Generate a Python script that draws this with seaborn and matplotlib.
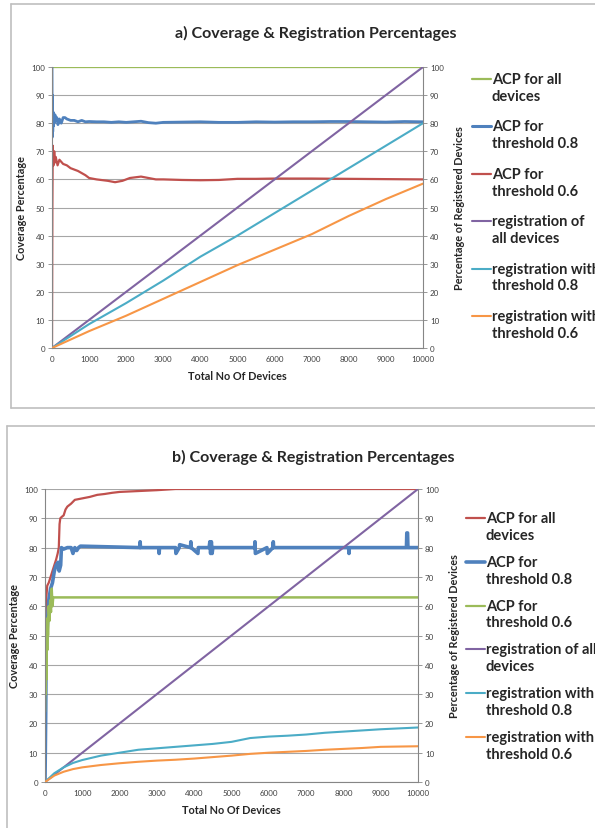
import matplotlib
matplotlib.use("Agg")
import matplotlib.pyplot as plt
import seaborn as sns
from matplotlib.lines import Line2D

sns.set_style("white")
plt.rcParams['font.family'] = ['Lato', 'DejaVu Sans']

# colours (Excel 2010 palette)
GREEN = '#9BBB59'
BLUE = '#4F81BD'
RED = '#C0504D'
PURPLE = '#8064A2'
TEAL = '#4BACC6'
ORANGE = '#F79646'

# ---------------- panel a data ----------------
a_all_x = [0, 10000]
a_all_y = [100, 100]

a_t08_x = [0, 5, 10, 20, 30, 40, 50, 60, 80, 100, 130, 160, 200, 250, 300, 350, 400, 500, 600,
           700, 800, 900, 1000, 1200, 1400, 1600, 1800, 2000, 2200, 2400, 2600, 2800, 3000,
           3500, 4000, 4500, 5000, 5500, 6000, 6500, 7000, 7500, 8000, 8500, 9000, 9500, 10000]
a_t08_y = [100, 75, 90, 77, 84, 79, 83, 80, 83, 81, 82, 79.5, 81.5, 80, 82, 82, 81.5, 81, 81,
           80.5, 81, 80.5, 80.6, 80.5, 80.5, 80.3, 80.5, 80.3, 80.5, 80.7, 80.2, 80, 80.3,
           80.4, 80.5, 80.3, 80.3, 80.5, 80.4, 80.5, 80.5, 80.6, 80.6, 80.5, 80.4, 80.6, 80.5]

a_t06_x = [0, 10, 20, 40, 60, 80, 100, 150, 200, 300, 400, 500, 700, 900, 1000, 1200, 1500,
           1700, 1900, 2100, 2400, 2600, 2800, 3000, 3500, 4000, 4500, 5000, 5500, 6000,
           7000, 8000, 9000, 10000]
a_t06_y = [0, 50, 72, 65, 70, 66, 68, 65, 67, 65.5, 65, 64, 63, 61.5, 60.5, 60, 59.5,
           59, 59.5, 60.5, 61, 60.5, 60, 60, 59.8, 59.7, 59.8, 60.2, 60.2, 60.3,
           60.3, 60.2, 60.1, 60]

a_reg_x = [0, 1000, 2000, 3000, 4000, 5000, 6000, 7000, 8000, 9000, 10000]
a_reg_all = [0, 10, 20, 30, 40, 50, 60, 70, 80, 90, 100]
a_reg_08 = [0, 8.5, 16, 24, 32.5, 40, 48, 56, 64, 72, 80]
a_reg_06 = [0, 6, 11.5, 17.5, 23.5, 29.5, 35, 40.5, 47, 53, 58.5]

# ---------------- panel b data ----------------
b_all_x = [0, 30, 60, 100, 150, 200, 250, 300, 340, 370, 390, 410, 450, 500, 550, 600, 700,
           800, 1000, 1200, 1400, 1600, 1800, 2000, 2500, 3000, 3500, 10000]
b_all_y = [52, 62, 67, 68, 70, 72, 74, 76, 78, 80, 88, 90, 90.5, 91, 93, 94, 95,
           96.3, 96.8, 97.3, 98, 98.3, 98.7, 99, 99.3, 99.6, 100, 100]

b_t08_x = [0, 20, 30, 50, 80, 100, 150, 200, 250, 300, 350, 380, 420, 440, 500, 600, 700,
           750, 800, 850, 900, 950, 2540, 2550, 2560, 3050, 3060, 3070, 3500, 3510, 3600,
           3610, 3900, 3910, 3920, 4100, 4110, 4400, 4420, 4440, 4460, 4480, 4500, 5620,
           5630, 5640, 5950, 5960, 6110, 6120, 6130, 8140, 8150, 8160, 9690, 9700, 9720,
           9730, 10000]
b_t08_y = [0, 25, 45, 50, 57, 62, 66, 68, 72, 74, 75, 72, 74, 80, 79.5, 80, 80,
           78, 80, 79, 80, 80.5, 80, 82, 80, 80, 78, 80, 80, 78, 80,
           81, 80, 82, 80, 78, 80, 80, 82, 78, 82, 78, 80, 80,
           82, 78, 80, 78, 80, 82, 80, 80, 78, 80, 80, 85, 85,
           80, 80]

b_t06_x = [0, 10, 20, 30, 40, 50, 60, 70, 80, 100, 120, 140, 160, 180, 200, 220, 10000]
b_t06_y = [24, 40, 30, 46, 35, 52, 45, 56, 50, 60, 55, 62, 58, 66, 60, 63, 63]

b_reg_x = [0, 250, 500, 750, 1000, 1500, 2000, 2500, 3000, 3500, 4000, 4500, 5000, 5500,
           6000, 6500, 7000, 7500, 8000, 8500, 9000, 9500, 10000]
b_reg_all = [0, 2.5, 5, 7.5, 10, 15, 20, 25, 30, 35, 40, 45, 50, 55,
             60, 65, 70, 75, 80, 85, 90, 95, 100]
b_reg_08 = [0, 3, 5, 6.5, 7.5, 9, 10, 11, 11.5, 12, 12.5, 13, 13.7, 15,
            15.5, 15.8, 16.2, 16.8, 17.2, 17.6, 18, 18.3, 18.6]
b_reg_06 = [0, 2.2, 3.5, 4.4, 5, 5.8, 6.4, 6.9, 7.3, 7.6, 8, 8.5, 9, 9.6,
            10, 10.3, 10.6, 11, 11.3, 11.6, 12, 12.1, 12.2]

W, H = 595, 829
fig = plt.figure(figsize=(W / 100, H / 100), dpi=100)


def fx(px):
    return px / W


def fy(py):
    return 1 - py / H


def style_axes(ax, ax2):
    for a in (ax, ax2):
        a.set_xlim(0, 10000)
        a.set_ylim(0, 100)
        a.set_yticks(range(0, 101, 10))
        for s in a.spines.values():
            s.set_visible(False)
        a.tick_params(axis='both', labelsize=5.8, colors='#404040', length=3, width=0.6,
                      color='#868686', pad=2)
    ax.set_xticks(range(0, 10001, 1000))
    ax.spines['left'].set_visible(True)
    ax.spines['bottom'].set_visible(True)
    ax2.spines['right'].set_visible(True)
    for s in (ax.spines['left'], ax.spines['bottom'], ax2.spines['right']):
        s.set_color('#868686')
        s.set_linewidth(0.8)
    ax.grid(axis='y', color='#A6A6A6', linewidth=0.8)
    ax.set_axisbelow(True)
    ax.set_xlabel('Total No Of Devices', fontsize=7.8, fontweight='bold', labelpad=6)
    ax.set_ylabel('Coverage Percentage', fontsize=7.8, fontweight='bold', labelpad=3)
    ax2.set_ylabel('Percentage of Registered Devices', fontsize=7.8, fontweight='bold',
                   labelpad=7)


def line(ax, x, y, color, lw):
    sns.lineplot(x=x, y=y, ax=ax, color=color, linewidth=lw, estimator=None, sort=False)


def legend(entries, x0, y0, dy):
    for i, (label, color, lw) in enumerate(entries):
        yy = y0 + i * dy
        fig.add_artist(Line2D([fx(x0), fx(x0 + 19)], [fy(yy), fy(yy)], color=color, linewidth=lw))
        fig.text(fx(x0 + 20), fy(yy - 7), label, fontsize=10.5, fontweight='bold',
                 va='top', ha='left', linespacing=1.25)


def frame(x0, y0, x1, y1):
    for xs, ys in (([x0, x0], [y0, y1]), ([x0, x1], [y0, y0]), ([x0, x1], [y1, y1])):
        fig.add_artist(Line2D([fx(v) for v in xs], [fy(v) for v in ys],
                              color='#BFBFBF', linewidth=1.2))


# ---------------- panel a ----------------
frame(11, 5, 600, 409)
ax = fig.add_axes([fx(52), fy(349), fx(423) - fx(52), fy(68) - fy(349)])
ax2 = ax.twinx()
line(ax, a_all_x, a_all_y, GREEN, 1.6)
line(ax, a_t08_x, a_t08_y, BLUE, 2.0)
line(ax, a_t06_x, a_t06_y, RED, 1.6)
line(ax2, a_reg_x, a_reg_all, PURPLE, 1.5)
line(ax2, a_reg_x, a_reg_08, TEAL, 1.5)
line(ax2, a_reg_x, a_reg_06, ORANGE, 1.5)
style_axes(ax, ax2)
fig.text(fx(316), fy(33), 'a) Coverage & Registration Percentages', fontsize=11.5,
         fontweight='bold', ha='center', va='center')
legend([('ACP for all\ndevices', GREEN, 1.6),
        ('ACP for\nthreshold 0.8', BLUE, 2.2),
        ('ACP for\nthreshold 0.6', RED, 1.6),
        ('registration of\nall devices', PURPLE, 1.5),
        ('registration with\nthreshold 0.8', TEAL, 1.5),
        ('registration with\nthreshold 0.6', ORANGE, 1.5)], 472, 80, 47.4)

# ---------------- panel b ----------------
frame(7, 427, 600, 840)
bx = fig.add_axes([fx(45), fy(783), fx(418) - fx(45), fy(490) - fy(783)])
bx2 = bx.twinx()
line(bx, b_all_x, b_all_y, RED, 1.6)
line(bx, b_t08_x, b_t08_y, BLUE, 2.6)
line(bx, b_t06_x, b_t06_y, GREEN, 1.8)
line(bx2, b_reg_x, b_reg_all, PURPLE, 1.5)
line(bx2, b_reg_x, b_reg_08, TEAL, 1.5)
line(bx2, b_reg_x, b_reg_06, ORANGE, 1.5)
style_axes(bx, bx2)
fig.text(fx(313), fy(457), 'b) Coverage & Registration Percentages', fontsize=11.5,
         fontweight='bold', ha='center', va='center')
legend([('ACP for all\ndevices', RED, 1.6),
        ('ACP for\nthreshold 0.8', BLUE, 2.6),
        ('ACP for\nthreshold 0.6', GREEN, 1.6),
        ('registration of all\ndevices', PURPLE, 1.5),
        ('registration with\nthreshold 0.8', TEAL, 1.5),
        ('registration with\nthreshold 0.6', ORANGE, 1.5)], 466, 519, 43.8)

fig.savefig('out.png', dpi=100)
